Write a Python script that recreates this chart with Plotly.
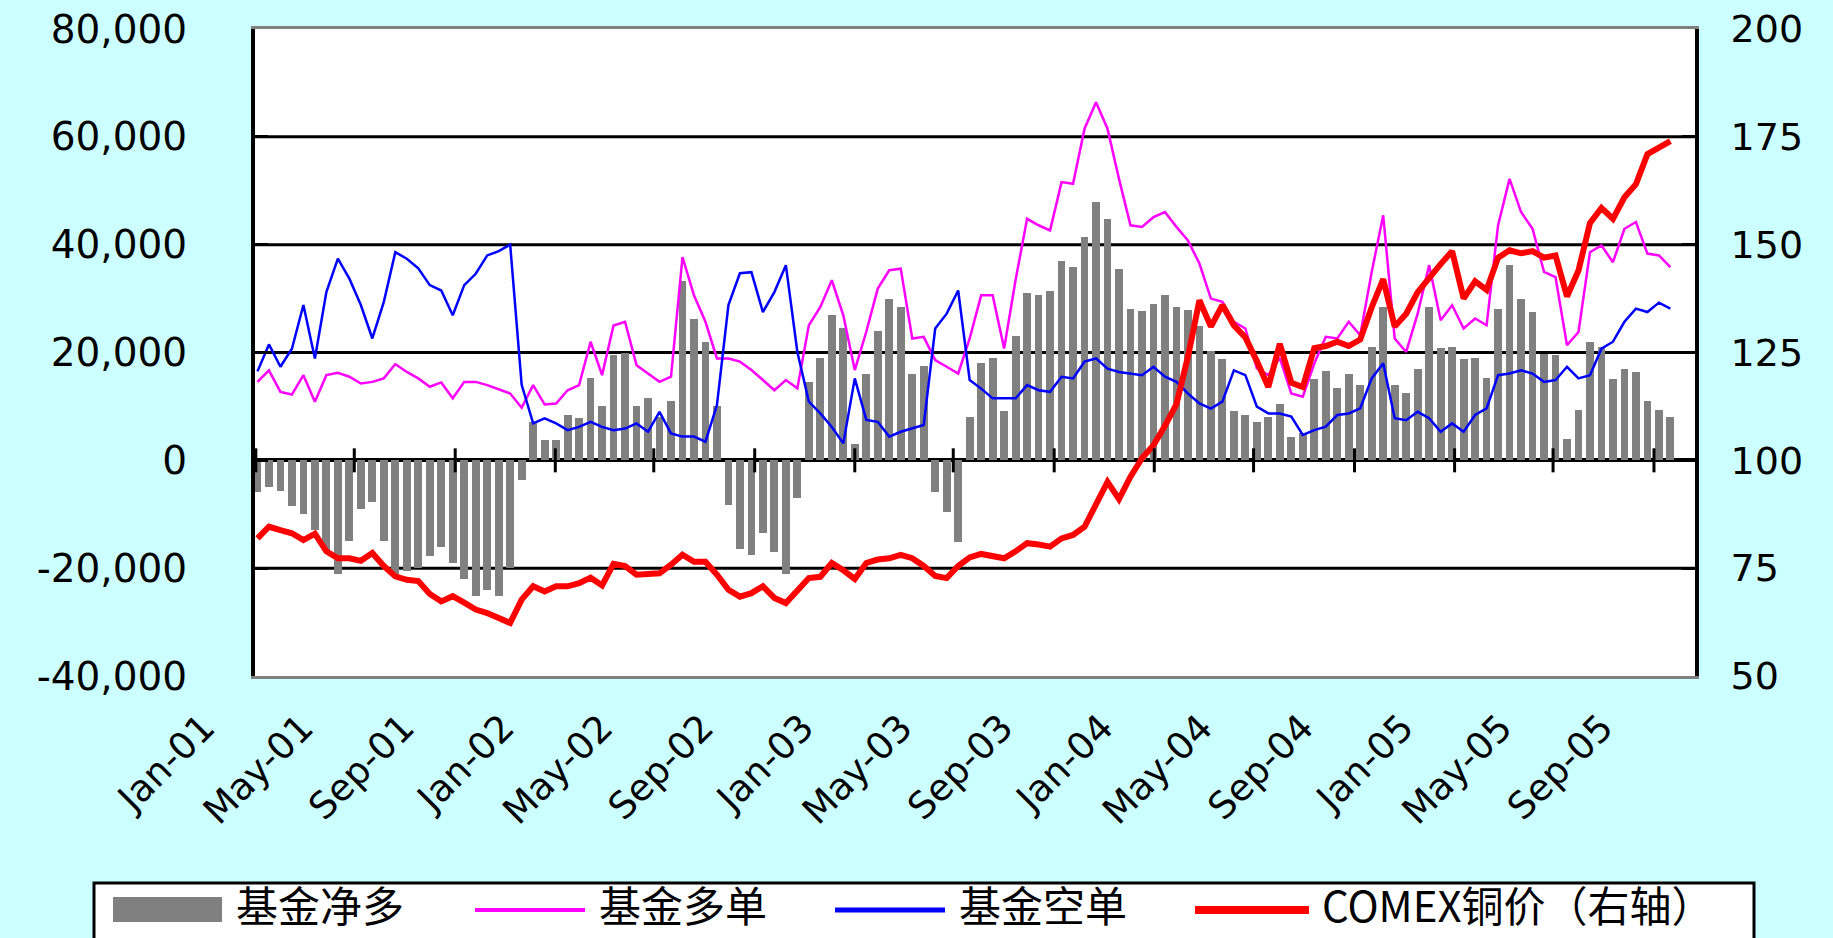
import pandas as pd
import plotly.graph_objects as go

# ---------------- data ----------------
dates = pd.date_range("2001-01-03", periods=124, freq="14D")

net_long = [
    -5800, -5000, -5600, -8500, -10000, -13000, -16900, -21000, -15000, -9000,
    -7650, -15000, -21000, -20600, -20000, -17800, -16000, -19000, -22000, -25200,
    -24000, -25250, -20000, -3650, 7150, 3750, 3700, 8400, 7800, 15200,
    10000, 19500, 20000, 10000, 11500, 8000, 11000, 33300, 26300, 22000,
    10000, -8300, -16400, -17500, -13500, -17000, -21000, -7000, 14500, 19000,
    27000, 24500, 3000, 16000, 24000, 30000, 28500, 16000, 17500, -5800,
    -9500, -15200, 8000, 18000, 19000, 9100, 23000, 31000, 30600, 31500,
    37000, 35800, 41500, 48000, 44700, 35500, 28000, 27700, 29000, 30600,
    28500, 27800, 25000, 20200, 18800, 9100, 8500, 7100, 8000, 10500,
    4300, 5000, 15000, 16500, 13500, 16000, 14000, 21000, 28500, 14000,
    12500, 17000, 28400, 20800, 21000, 18800, 19000, 15300, 28000, 36300,
    30000, 27500, 19800, 19600, 3900, 9300, 22000, 21000, 15000, 17000,
    16400, 11000, 9300, 8000,
]

fund_long = [
    14550, 16700, 12700, 12200, 15800, 10850, 15800, 16250, 15500, 14250,
    14550, 15200, 17850, 16400, 15200, 13650, 14450, 11500, 14550, 14550,
    13950, 13200, 12400, 9750, 13950, 10350, 10550, 13000, 13950, 22000,
    15800, 25000, 25700, 17650, 16100, 14550, 15500, 37700, 30600, 25700,
    18900, 18900, 18300, 16750, 14900, 13000, 14900, 13350, 25050, 28450,
    33400, 26900, 16750, 23850, 31850, 35250, 35550, 22600, 22900, 18600,
    17350, 16100, 22600, 30600, 30600, 20750, 33500, 44800, 43600, 42650,
    51600, 51300, 61500, 66400, 61500, 52200, 43600, 43300, 45100, 46050,
    43300, 40800, 36500, 30000, 29400, 25700, 24450, 17050, 15800, 19000,
    12400, 11800, 17950, 22900, 22600, 25700, 23200, 34950, 45450, 22600,
    20100, 27200, 36200, 26000, 28750, 24450, 26300, 25050, 43600, 52200,
    46050, 42950, 34950, 34000, 21350, 23800, 38600, 39850, 36750, 42950,
    44200, 38350, 38000, 35850,
]

fund_short = [
    16500, 21500, 17350, 20700, 28800, 18900, 31200, 37400, 33700, 28800,
    22600, 29400, 38600, 37400, 35600, 32500, 31500, 26900, 32500, 34600,
    38000, 38800, 40000, 14000, 6850, 7800, 6850, 5600, 6200, 7150,
    6200, 5600, 5900, 6850, 5300, 9000, 5000, 4400, 4400, 3450,
    10250, 28800, 34700, 34900, 27500, 31200, 36200, 20100, 10900, 8700,
    6200, 3150, 15200, 7500, 7150, 4400, 5300, 5900, 6550, 24450,
    27200, 31500, 14900, 13300, 11500, 11500, 11500, 13950, 13000, 12700,
    15500, 15200, 18300, 18900, 17000, 16400, 16100, 15800, 17350, 15500,
    14550, 12400, 10550, 9600, 10900, 16700, 15800, 9950, 8700, 8700,
    8100, 4700, 5600, 6250, 8400, 8700, 9650, 15200, 18000, 7800,
    7450, 9000, 7800, 5300, 6850, 5300, 8400, 9650, 15800, 16100,
    16700, 16100, 14550, 14900, 17350, 15200, 15800, 20700, 22000, 25700,
    28150, 27500, 29250, 28150,
]

comex_price = [
    81.9, 84.6, 83.8, 83.1, 81.5, 83.0, 78.9, 77.3, 77.3, 76.7,
    78.5, 75.5, 73.1, 72.3, 72.0, 69.0, 67.3, 68.5, 67.0, 65.4,
    64.6, 63.6, 62.3, 67.7, 70.8, 69.6, 70.8, 70.8, 71.5, 72.8,
    71.0, 76.0, 75.5, 73.5, 73.5, 73.8, 75.8, 78.1, 76.5, 76.5,
    73.5, 70.0, 68.4, 69.2, 70.8, 68.1, 66.9, 70.0, 72.7, 73.0,
    76.2, 74.5, 72.5, 76.2, 77.0, 77.3, 78.1, 77.3, 75.5, 73.2,
    72.7, 75.5, 77.5, 78.3, 77.7, 77.3, 78.9, 80.8, 80.5, 80.0,
    81.9, 82.7, 84.6, 90.0, 95.0, 91.0, 96.2, 100.5, 103.5, 108.0,
    113.0, 124.0, 137.1, 131.0, 136.0, 131.3, 128.5, 123.0, 117.0, 127.0,
    118.0, 117.0, 126.0, 126.5, 127.5, 126.5, 128.0, 135.5, 142.0, 131.0,
    134.0, 139.0, 142.5, 145.5, 148.5, 137.5, 141.5, 139.5, 147.0, 148.7,
    148.0, 148.5, 147.0, 147.5, 138.0, 144.0, 155.0, 158.5, 156.0, 161.0,
    164.0, 171.0, 172.5, 174.0,
]

x_tick_dates = [
    "2001-01-01", "2001-05-01", "2001-09-01", "2002-01-01", "2002-05-01",
    "2002-09-01", "2003-01-01", "2003-05-01", "2003-09-01", "2004-01-01",
    "2004-05-01", "2004-09-01", "2005-01-01", "2005-05-01", "2005-09-01",
]
x_tick_labels = [
    "Jan-01", "May-01", "Sep-01", "Jan-02", "May-02", "Sep-02", "Jan-03",
    "May-03", "Sep-03", "Jan-04", "May-04", "Sep-04", "Jan-05", "May-05", "Sep-05",
]
y_left_ticks = [-40000, -20000, 0, 20000, 40000, 60000, 80000]
y_left_labels = ["-40,000", "-20,000", "0", "20,000", "40,000", "60,000", "80,000"]
y_right_ticks = [50, 75, 100, 125, 150, 175, 200]
y_right_labels = ["50", "75", "100", "125", "150", "175", "200"]
series_names = ["基金净多", "基金多单", "基金空单", "COMEX铜价（右轴）"]

# ---------------- styling ----------------
W, H = 1833, 938
PL, PR, PT, PB = 255, 1695, 29, 676          # plot-area pixel box
GRAY, MAGENTA, BLUE, RED = "#808080", "#FF00FF", "#0000FF", "#FF0000"
NUM_FONT = "DejaVu Sans"
CJK_FONT = "Noto Sans CJK SC"


def px_x(px):
    return (px - PL) / (PR - PL)


def px_y(py):
    return (PB - py) / (PB - PT)


fig = go.Figure()
fig.add_trace(go.Bar(
    x=dates, y=net_long, name=series_names[0],
    marker=dict(color=GRAY, line=dict(width=0)),
    width=9.5 * 86400000, showlegend=False,
))
fig.add_trace(go.Scatter(
    x=dates, y=fund_long, name=series_names[1], mode="lines",
    line=dict(color=MAGENTA, width=2.5), showlegend=False,
))
fig.add_trace(go.Scatter(
    x=dates, y=fund_short, name=series_names[2], mode="lines",
    line=dict(color=BLUE, width=2.5), showlegend=False,
))
fig.add_trace(go.Scatter(
    x=dates, y=comex_price, name=series_names[3], mode="lines", yaxis="y2",
    line=dict(color=RED, width=6), showlegend=False,
))

shapes = []
# interior horizontal gridlines (edges are the grey plot border)
for v in y_left_ticks[1:-1]:
    if v == 0:
        continue
    shapes.append(dict(
        type="line", xref="paper", yref="y", x0=0, x1=1, y0=v, y1=v,
        line=dict(color="black", width=3), layer="below",
    ))
# cross tick marks on the zero line
for d in x_tick_dates:
    shapes.append(dict(
        type="line", xref="x", yref="y", ysizemode="pixel", yanchor=0,
        x0=d, x1=d, y0=-12, y1=12, line=dict(color="black", width=3), layer="above",
    ))

# manual legend box (Excel style, runs off the bottom edge like the original)
shapes.append(dict(
    type="rect", xref="paper", yref="paper",
    x0=px_x(94), x1=px_x(1754), y0=px_y(975), y1=px_y(883),
    line=dict(color="black", width=3), fillcolor="white", layer="above",
))
LEG_Y = 908
shapes.append(dict(
    type="rect", xref="paper", yref="paper",
    x0=px_x(113), x1=px_x(222), y0=px_y(922), y1=px_y(897),
    line=dict(width=0), fillcolor=GRAY, layer="above",
))
for (xa, xb, col, lw) in [(475, 585, MAGENTA, 4), (835, 945, BLUE, 5), (1195, 1309, RED, 8)]:
    shapes.append(dict(
        type="line", xref="paper", yref="paper",
        x0=px_x(xa), x1=px_x(xb), y0=px_y(LEG_Y + 2), y1=px_y(LEG_Y + 2),
        line=dict(color=col, width=lw), layer="above",
    ))

annotations = []
for name, xl in zip(series_names, [234, 597, 957, 1320]):
    annotations.append(dict(
        text=name, xref="paper", yref="paper", x=px_x(xl), y=px_y(903),
        xanchor="left", yanchor="middle", showarrow=False,
        font=dict(family=CJK_FONT, size=42, color="black"),
    ))

fig.update_layout(
    width=W, height=H, autosize=False,
    paper_bgcolor="#CCFFFF", plot_bgcolor="white",
    margin=dict(l=PL, r=W - PR, t=PT, b=H - PB, pad=0, autoexpand=False),
    showlegend=False,
    bargap=0,
    shapes=shapes,
    annotations=annotations,
    xaxis=dict(
        type="date", range=["2000-12-31", "2005-10-21"],
        tickmode="array", tickvals=x_tick_dates, ticktext=x_tick_labels,
        tickangle=-45, ticks="", showgrid=False, zeroline=False,
        showline=True, linecolor=GRAY, linewidth=3, mirror=True,
        tickfont=dict(family=NUM_FONT, size=37, color="black"),
        ticklabelstandoff=12, ticklabelshift=-52,
    ),
    yaxis=dict(
        range=[-40000, 80000], tickmode="array",
        tickvals=y_left_ticks, ticktext=y_left_labels,
        showgrid=False,
        zeroline=True, zerolinecolor="black", zerolinewidth=4,
        showline=True, linecolor="black", linewidth=4,
        ticks="inside", ticklen=13, tickwidth=3, tickcolor="black",
        tickfont=dict(family=NUM_FONT, size=39, color="black"),
        ticklabelstandoff=56,
    ),
    yaxis2=dict(
        overlaying="y", side="right", range=[50, 200], tickmode="array",
        tickvals=y_right_ticks, ticktext=y_right_labels,
        showgrid=False, zeroline=False,
        showline=True, linecolor="black", linewidth=4,
        ticks="inside", ticklen=13, tickwidth=3, tickcolor="black",
        tickfont=dict(family=NUM_FONT, size=38, color="black"),
        ticklabelstandoff=24,
    ),
)

fig.write_html(
    "out.html",
    config={"displayModeBar": False},
    post_script="document.body.style.margin='0';document.body.style.overflow='hidden';",
)
